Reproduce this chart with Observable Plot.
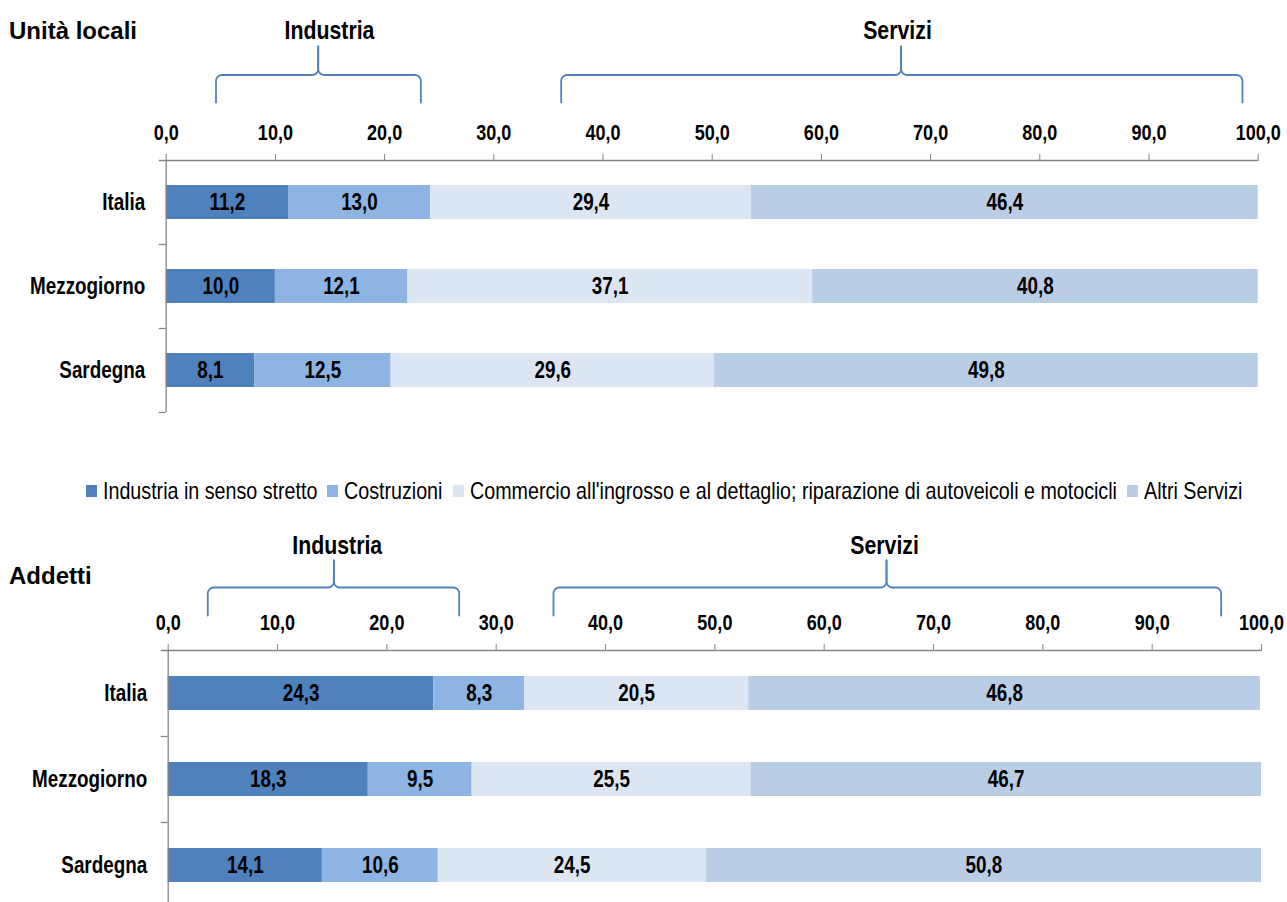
<!DOCTYPE html>
<html><head><meta charset="utf-8">
<script src="https://cdn.jsdelivr.net/npm/d3@7"></script>
<script src="https://cdn.jsdelivr.net/npm/@observablehq/plot@0.6"></script>
<style>
body{margin:0;background:#fff;}
#root{position:relative;width:1287px;height:902px;overflow:hidden;background:#fff;}
#root > *{position:absolute;}
.title{font-family:"Liberation Sans",Arial,sans-serif;font-weight:bold;font-size:24px;line-height:24px;color:#000;}
.legend{display:flex;align-items:center;font-family:"Liberation Sans",Arial,sans-serif;font-size:24px;line-height:26px;color:#000;white-space:nowrap;}
.legend .item{display:flex;align-items:center;margin-right:10px;}
.legend .sw{width:11px;height:12px;margin-right:6px;flex:none;}
.legend .tx{display:inline-block;transform-origin:0 50%;}
svg{overflow:visible;}
</style></head><body><div id="root"></div>
<script>
// ---- data ----
const regions = ["Italia", "Mezzogiorno", "Sardegna"];
const sectors = ["Industria in senso stretto", "Costruzioni", "Commercio all'ingrosso e al dettaglio; riparazione di autoveicoli e motocicli", "Altri Servizi"];
const colors = ["#4F81BD", "#8DB4E2", "#DCE6F2", "#B9CDE5"];
// Unità locali (%)
const ulItalia = [11.2, 13.0, 29.4, 46.4];
const ulMezzogiorno = [10.0, 12.1, 37.1, 40.8];
const ulSardegna = [8.1, 12.5, 29.6, 49.8];
// Addetti (%)
const adItalia = [24.3, 8.3, 20.5, 46.8];
const adMezzogiorno = [18.3, 9.5, 25.5, 46.7];
const adSardegna = [14.1, 10.6, 24.5, 50.8];
const xTicks = [0, 10, 20, 30, 40, 50, 60, 70, 80, 90, 100];
const panelTitles = ["Unità locali", "Addetti"];
// brace groups (x in % units)
const groupLabels = ["Industria", "Servizi"];
const bracesUL = [[4.56, 23.32, 13.92, 14.95], [36.17, 98.56, 67.3, 66.97]];   // x1, x2, tip, label
const bracesAD = [[3.62, 26.62, 15.15, 15.46], [35.24, 96.31, 65.7, 65.52]];

// ---- helpers ----
const FONT = '"Liberation Sans",Arial,sans-serif';
const NARROW_K = 0.82;   // horizontal condensing (Arial Narrow look)
const AXIS = "#868686";
const BRACE = "#4F81BD";
const W = 1287;
const fmt = d => d.toFixed(1).replace(".", ",");
const root = document.getElementById("root");

function condense(svg, k = NARROW_K) {
  svg.querySelectorAll("text").forEach(t => {
    const xa = t.getAttribute("x");
    if (xa != null && isFinite(+xa) && +xa !== 0) t.setAttribute("x", +xa / k);
    const tr = t.getAttribute("transform") || "";
    t.setAttribute("transform", `${tr} scale(${k},1)`);
  });
}

function toRows(vals) {
  return regions.flatMap((r, i) => sectors.map((s, j) => ({region: r, sector: s, value: vals[i][j]})));
}

function barPlot({rows, top, height, marginTop, marginBottom, ml, mr, yRange, step, bw}) {
  const unit = (W - ml - mr) / 100;
  const tk = 7 / unit;
  const pi = 1 - bw / step;
  const p = Plot.plot({
    width: W, height, marginTop, marginBottom, marginLeft: ml, marginRight: mr,
    style: {background: "transparent", fontFamily: FONT, overflow: "visible"},
    x: {domain: [0, 100], axis: null},
    y: {domain: regions, range: yRange, paddingInner: pi, paddingOuter: pi / 2, axis: null},
    color: {domain: sectors, range: colors},
    marks: [
      Plot.barX(rows, {x: "value", y: "region", fill: "sector"}),
      Plot.text(rows, Plot.stackX({x: "value", y: "region", z: "sector", text: d => fmt(d.value),
        fontSize: 23, fontWeight: "bold", fill: "#000"})),
      Plot.ruleX([0], {stroke: AXIS, strokeWidth: 1.3}),
      Plot.ruleY([regions[0]], {x1: -tk, x2: 100, dy: -step / 2, stroke: AXIS, strokeWidth: 1.3}),
      Plot.ruleY(regions, {x1: -tk, x2: 0, dy: step / 2, stroke: AXIS, strokeWidth: 1.3}),
      Plot.axisX({anchor: "top", ticks: xTicks, tickFormat: fmt, tickSize: 7, tickPadding: 14,
        fontSize: 22, fontWeight: "bold", stroke: AXIS, fill: "#000", label: null}),
      Plot.axisY({tickSize: 0, tickPadding: 21, fontSize: 23, fontWeight: "bold", fill: "#000", label: null})
    ]
  });
  condense(p);
  p.style.left = "0px"; p.style.top = top + "px";
  root.appendChild(p);
}

function bracePlot({braces, top, height, ml, mr, yH, yB, yT, labelY}) {
  const unit = (W - ml - mr) / 100;
  const r = 6 / unit;   // corner radius in % units
  const ry = 6;
  const pts = [];
  const N = 6;
  braces.forEach(([x1, x2, m], g) => {
    const L = "L" + g, R = "R" + g;
    pts.push({x: x1, y: yB, z: L}, {x: x1, y: yH + ry, z: L});
    for (let k = 1; k <= N; k++) { const a = Math.PI + k / N * Math.PI / 2; pts.push({x: x1 + r + r * Math.cos(a), y: yH + ry + ry * Math.sin(a), z: L}); }
    pts.push({x: m - r, y: yH, z: L});
    for (let k = 1; k <= N; k++) { const a = Math.PI / 2 - k / N * Math.PI / 2; pts.push({x: m - r + r * Math.cos(a), y: yH - ry + ry * Math.sin(a), z: L}); }
    pts.push({x: m, y: yT, z: L});
    pts.push({x: m, y: yT, z: R}, {x: m, y: yH - ry, z: R});
    for (let k = 1; k <= N; k++) { const a = Math.PI - k / N * Math.PI / 2; pts.push({x: m + r + r * Math.cos(a), y: yH - ry + ry * Math.sin(a), z: R}); }
    pts.push({x: x2 - r, y: yH, z: R});
    for (let k = 1; k <= N; k++) { const a = 3 * Math.PI / 2 + k / N * Math.PI / 2; pts.push({x: x2 - r + r * Math.cos(a), y: yH + ry + ry * Math.sin(a), z: R}); }
    pts.push({x: x2, y: yB, z: R});
  });
  const labels = braces.map((b, i) => ({label: groupLabels[i], x: b[3]}));
  const p = Plot.plot({
    width: W, height, marginTop: 0, marginBottom: 0, marginLeft: ml, marginRight: mr,
    style: {background: "transparent", fontFamily: FONT, overflow: "visible"},
    x: {domain: [0, 100], axis: null},
    y: {type: "linear", domain: [0, height], range: [0, height], axis: null},
    marks: [
      Plot.line(pts, {x: "x", y: "y", z: "z", stroke: BRACE, strokeWidth: 1.8, curve: "linear"}),
      Plot.text(labels, {x: "x", y: () => labelY, text: "label", fontSize: 26, fontWeight: "bold", fill: "#000", lineAnchor: "middle"})
    ]
  });
  condense(p);
  p.style.left = "0px"; p.style.top = top + "px";
  root.appendChild(p);
}

// ---- titles ----
function addTitle(text, top) {
  const d = document.createElement("div");
  d.className = "title"; d.textContent = text;
  d.style.left = "9px"; d.style.top = top + "px";
  root.appendChild(d);
}
addTitle(panelTitles[0], 19);
addTitle(panelTitles[1], 564);

// ---- panel 1: Unità locali ----
bracePlot({braces: bracesUL, top: 0, height: 110, ml: 165.7, mr: 29.3, yH: 74.5, yB: 102, yT: 46, labelY: 30});
barPlot({rows: toRows([ulItalia, ulMezzogiorno, ulSardegna]), top: 0, height: 440, marginTop: 160, marginBottom: 28,
  ml: 165.7, mr: 29.3, yRange: [160, 412], step: 84, bw: 34});

// ---- legend ----
const lg = document.createElement("div");
lg.className = "legend";
lg.style.left = "86px"; lg.style.top = "478px";
root.appendChild(lg);
sectors.forEach((s, i) => {
  const it = document.createElement("div"); it.className = "item";
  const sw = document.createElement("div"); sw.className = "sw"; sw.style.background = colors[i];
  const tx = document.createElement("span"); tx.className = "tx"; tx.textContent = s;
  it.appendChild(sw); it.appendChild(tx); lg.appendChild(it);
  const w = tx.getBoundingClientRect().width;
  tx.style.transform = `scaleX(${NARROW_K})`;
  tx.style.marginRight = (-(1 - NARROW_K) * w) + "px";
});

// ---- panel 2: Addetti ----
bracePlot({braces: bracesAD, top: 520, height: 110, ml: 167.7, mr: 26, yH: 67, yB: 95, yT: 40, labelY: 25});
barPlot({rows: toRows([adItalia, adMezzogiorno, adSardegna]), top: 500, height: 402, marginTop: 150, marginBottom: 0,
  ml: 167.7, mr: 26, yRange: [150, 408], step: 86, bw: 34});
</script></body></html>
